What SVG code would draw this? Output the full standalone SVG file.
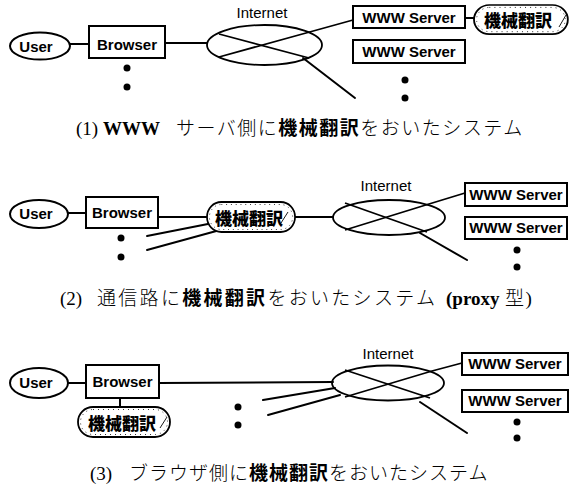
<svg xmlns="http://www.w3.org/2000/svg" width="573" height="487" viewBox="0 0 573 487">
  <style>
    .bg { fill: #ffffff; }
    .shape { fill: #ffffff; stroke: #000000; stroke-width: 2; }
    .net { fill: none; stroke: #000000; stroke-width: 1.8; }
    .wire { fill: none; stroke: #000000; stroke-width: 2; stroke-linecap: round; }
    .pill { fill: #ffffff; stroke: #000000; stroke-width: 1.8; }
    .pill-hatch { fill: none; stroke: #000000; stroke-width: 0.8; stroke-dasharray: 1 4; }
    .gloss { fill: none; stroke: #000000; stroke-width: 0.9; }
    .dot { fill: #000000; }
    .lbl { font-family: "Liberation Sans", Arial, sans-serif; font-weight: bold; font-size: 15px; fill: #000000; text-anchor: middle; }
    .net-lbl { font-family: "Liberation Sans", Arial, sans-serif; font-size: 15px; fill: #000000; text-anchor: middle; }
    .mt { font-family: "Liberation Sans", "Noto Sans CJK JP", sans-serif; font-weight: 900; font-size: 17px; fill: #000000; text-anchor: middle; }
    .cap { font-family: "Liberation Serif", "Noto Sans CJK JP", serif; font-size: 19px; fill: #000000; }
    .cap-jp { font-family: "Noto Sans CJK JP", sans-serif; font-weight: 300; letter-spacing: 1.5px; }
    .cap-em { font-weight: bold; }
  </style>
  <defs>
    <g id="mt-pill-shape">
      <rect class="pill" x="0" y="0" width="92" height="30" rx="15" ry="15"/>
      <rect class="pill-hatch" x="2.5" y="2.5" width="87" height="25" rx="12.5" ry="12.5"/>
    </g>
  </defs>
  <rect class="bg" x="0" y="0" width="573" height="487"/>

  <!-- ===== (1) translation on the WWW server side ===== -->
  <g id="connectors-1">
    <line class="wire" x1="70" y1="44" x2="89" y2="44"/>
    <line class="wire" x1="165" y1="43" x2="207" y2="43"/>
    <line class="wire" x1="465" y1="18" x2="474" y2="18"/>
    <line class="net" x1="219" y1="34" x2="309" y2="58"/>
    <polyline class="net" points="219,57 306,33 353,20"/>
    <line class="wire" x1="303" y1="58" x2="355" y2="98"/>
  </g>
  <g id="user-1">
    <ellipse class="shape" cx="40" cy="46" rx="30" ry="13.5"/>
    <text class="lbl" x="36" y="52">User</text>
  </g>
  <g id="browser-1">
    <rect class="shape" x="89" y="26" width="76" height="32"/>
    <text class="lbl" x="127" y="50">Browser</text>
    <circle class="dot" cx="127" cy="68" r="3.5"/>
    <circle class="dot" cx="127" cy="87" r="3.5"/>
  </g>
  <g id="internet-1">
    <ellipse class="net" cx="264.5" cy="45" rx="57.5" ry="20"/>
    <text class="net-lbl" x="262" y="18">Internet</text>
  </g>
  <g id="server-1a">
    <rect class="shape" x="353" y="6" width="112" height="22"/>
    <text class="lbl" x="409" y="22.5">WWW Server</text>
  </g>
  <g id="mt-1">
    <use href="#mt-pill-shape" transform="translate(474,5) scale(1.02,0.97)"/>
    <line class="gloss" x1="559" y1="27" x2="566" y2="15"/>
    <text class="mt" x="518" y="27">機械翻訳</text>
  </g>
  <g id="server-1b">
    <rect class="shape" x="353" y="40" width="112" height="23"/>
    <text class="lbl" x="409" y="57">WWW Server</text>
    <circle class="dot" cx="405" cy="80" r="3.5"/>
    <circle class="dot" cx="405" cy="98" r="3.5"/>
  </g>
  <text class="cap" y="135"><tspan x="76">(1)</tspan><tspan x="103" class="cap-em">WWW</tspan><tspan x="176" class="cap-jp">サーバ側に<tspan class="cap-em">機械翻訳</tspan>をおいたシステム</tspan></text>

  <!-- ===== (2) translation on the communication path (proxy) ===== -->
  <g id="connectors-2">
    <line class="wire" x1="68" y1="213" x2="86" y2="213"/>
    <line class="wire" x1="158" y1="217" x2="207" y2="217"/>
    <line class="wire" x1="213" y1="223" x2="147" y2="236"/>
    <line class="wire" x1="220" y1="230" x2="147" y2="250"/>
    <line class="wire" x1="295" y1="217" x2="333" y2="217"/>
    <line class="net" x1="345" y1="203" x2="427" y2="232"/>
    <polyline class="net" points="345,230 429,204 465,193"/>
    <line class="wire" x1="420" y1="233" x2="467" y2="260"/>
  </g>
  <g id="user-2">
    <ellipse class="shape" cx="39" cy="214" rx="29" ry="14"/>
    <text class="lbl" x="36" y="219">User</text>
  </g>
  <g id="browser-2">
    <rect class="shape" x="86" y="197" width="72" height="31"/>
    <text class="lbl" x="122" y="218">Browser</text>
    <circle class="dot" cx="121" cy="238" r="3.5"/>
    <circle class="dot" cx="121" cy="257" r="3.5"/>
  </g>
  <g id="mt-2">
    <use href="#mt-pill-shape" transform="translate(207,202) scale(0.957,1)"/>
    <line class="gloss" x1="281" y1="223" x2="288" y2="212"/>
    <text class="mt" x="249" y="225">機械翻訳</text>
  </g>
  <g id="internet-2">
    <ellipse class="net" cx="389" cy="217.5" rx="56" ry="17.5"/>
    <text class="net-lbl" x="386" y="191">Internet</text>
  </g>
  <g id="server-2a">
    <rect class="shape" x="465" y="183" width="102" height="23"/>
    <text class="lbl" x="516" y="199.5">WWW Server</text>
  </g>
  <g id="server-2b">
    <rect class="shape" x="465" y="217" width="102" height="22"/>
    <text class="lbl" x="516" y="233">WWW Server</text>
    <circle class="dot" cx="517" cy="250" r="3.5"/>
    <circle class="dot" cx="517" cy="267" r="3.5"/>
  </g>
  <text class="cap" y="305"><tspan x="60">(2)</tspan><tspan x="97" class="cap-jp" style="letter-spacing:2.3px">通信路に<tspan class="cap-em">機械翻訳</tspan>をおいたシステム</tspan><tspan x="446" class="cap-em">(proxy</tspan><tspan x="505" class="cap-jp">型</tspan><tspan>)</tspan></text>

  <!-- ===== (3) translation on the browser side ===== -->
  <g id="connectors-3">
    <line class="wire" x1="68" y1="383" x2="86" y2="383"/>
    <line class="wire" x1="159" y1="383" x2="333" y2="382"/>
    <line class="wire" x1="120" y1="398" x2="120" y2="408"/>
    <line class="wire" x1="263" y1="400" x2="335" y2="388"/>
    <line class="wire" x1="268" y1="415" x2="340" y2="395"/>
    <line class="net" x1="345" y1="370" x2="430" y2="398"/>
    <polyline class="net" points="345,397 432,371 462,363"/>
    <line class="wire" x1="420" y1="402" x2="467" y2="433"/>
  </g>
  <g id="user-3">
    <ellipse class="shape" cx="39" cy="383" rx="29" ry="15"/>
    <text class="lbl" x="36" y="388">User</text>
  </g>
  <g id="browser-3">
    <rect class="shape" x="86" y="365" width="73" height="33"/>
    <text class="lbl" x="122.5" y="387">Browser</text>
  </g>
  <g id="mt-3">
    <use href="#mt-pill-shape" transform="translate(78,407)"/>
    <line class="gloss" x1="160" y1="428" x2="167" y2="417"/>
    <text class="mt" x="122" y="430">機械翻訳</text>
  </g>
  <g id="dots-3">
    <circle class="dot" cx="238" cy="407" r="3.5"/>
    <circle class="dot" cx="238" cy="425" r="3.5"/>
  </g>
  <g id="internet-3">
    <ellipse class="net" cx="388" cy="383" rx="56" ry="17.5"/>
    <text class="net-lbl" x="388" y="359">Internet</text>
  </g>
  <g id="server-3a">
    <rect class="shape" x="462" y="353" width="106" height="22"/>
    <text class="lbl" x="515" y="369">WWW Server</text>
  </g>
  <g id="server-3b">
    <rect class="shape" x="462" y="390" width="106" height="22"/>
    <text class="lbl" x="515" y="406">WWW Server</text>
    <circle class="dot" cx="517" cy="422" r="3.5"/>
    <circle class="dot" cx="517" cy="438" r="3.5"/>
  </g>
  <text class="cap" y="480"><tspan x="90">(3)</tspan><tspan x="129" class="cap-jp" style="letter-spacing:1px">ブラウザ側に<tspan class="cap-em">機械翻訳</tspan>をおいたシステム</tspan></text>
</svg>
